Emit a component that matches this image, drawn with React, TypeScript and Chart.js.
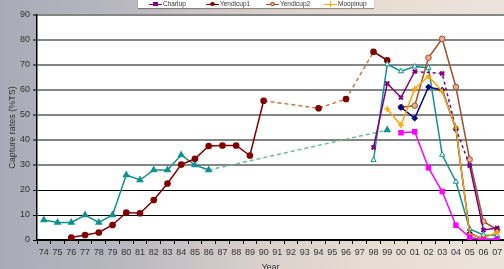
import React, { useEffect, useRef } from "react";
import { Chart, registerables } from "chart.js";

Chart.register(...registerables);

const years: string[] = [
  "74", "75", "76", "77", "78", "79", "80", "81", "82", "83", "84", "85", "86", "87", "88", "89",
  "90", "91", "92", "93", "94", "95", "96", "97", "98", "99", "00", "01", "02", "03", "04", "05", "06", "07",
];

const N = null;
// teal series (early, with a gap bridged by a dashed line to 99)
const tealEarly = [8, 7, 7, 10, 7, 10, 26, 24, 28, 28, 34, 30, 28, N, N, N, N, N, N, N, N, N, N, N, N, 44, N, N, N, N, N, N, N, N];
const tealLate = [N, N, N, N, N, N, N, N, N, N, N, N, N, N, N, N, N, N, N, N, N, N, N, N, 32, 70.3, 67.5, 69.4, 68.9, 34.1, 23.3, 4.4, 2, 1.9];
const yendicup1 = [N, N, 1, 2, 3, 6, 11, 10.7, 16, 22.6, 30.2, 32.5, 37.6, 37.8, 37.8, 33.8, 55.7, N, N, N, 52.7, N, 56.4, N, 75.3, 71.9, N, N, N, N, N, N, N, N];
const yendicup2 = [N, N, N, N, N, N, N, N, N, N, N, N, N, N, N, N, N, N, N, N, N, N, N, N, N, N, 53.1, 53.7, 72.9, 80.5, 61.2, 32.2, 7.4, 4.1];
const charlup = [N, N, N, N, N, N, N, N, N, N, N, N, N, N, N, N, N, N, N, N, N, N, N, N, 37, 62.6, 57, 67.4, N, 66.6, 44.5, 29.8, 4, 4.8];
const navy = [N, N, N, N, N, N, N, N, N, N, N, N, N, N, N, N, N, N, N, N, N, N, N, N, N, N, 53.1, 48.7, 61.2, 60, 44.5, 2.7, 0.3, 0.3];
const moopinup = [N, N, N, N, N, N, N, N, N, N, N, N, N, N, N, N, N, N, N, N, N, N, N, N, N, 52.4, 45.9, 60.4, 65.5, 59.5, 44.8, 2.3, 0.7, 3.1];
const magenta = [N, N, N, N, N, N, N, N, N, N, N, N, N, N, N, N, N, N, N, N, N, N, N, N, N, N, 42.9, 43.3, 28.9, 19.4, 5.9, 1.1, 0, 0.1];

const legendItems = [
  { label: "Charlup", color: "#800080", marker: "square", x: 149 },
  { label: "Yendicup1", color: "#800000", marker: "circle", x: 206 },
  { label: "Yendicup2", color: "#a0522d", marker: "ocircle", x: 266 },
  { label: "Moopinup", color: "#ffa500", marker: "plus", x: 324 },
];

const FONT = "'Liberation Sans', Arial, sans-serif";

const gapDash = (color: string) => ({
  borderColor: (c: any) => (c.p0.skip || c.p1.skip ? color : undefined),
  borderDash: (c: any) => (c.p0.skip || c.p1.skip ? [4, 3] : undefined),
});

export default function App() {
  const ref = useRef<HTMLCanvasElement>(null);

  useEffect(() => {
    if (!ref.current) return;
    const whiteArea = {
      id: "whiteArea",
      beforeDraw(chart: any) {
        const { ctx, chartArea } = chart;
        ctx.save();
        ctx.fillStyle = "#ffffff";
        ctx.fillRect(chartArea.left, chartArea.top, chartArea.right - chartArea.left, chartArea.bottom - chartArea.top);
        ctx.restore();
      },
    };
    const chart = new Chart(ref.current, {
      type: "line",
      data: {
        labels: years,
        datasets: [
          {
            label: "Magenta",
            data: magenta,
            borderColor: "#ff00ff",
            backgroundColor: "#ff00ff",
            pointStyle: "rect",
            pointRadius: 2.8,
            borderWidth: 1.5,
          },
          {
            label: "Moopinup",
            data: moopinup,
            borderColor: "#ffa500",
            backgroundColor: "#ffa500",
            pointStyle: "cross",
            pointRadius: 3,
            pointBorderWidth: 1.5,
            borderWidth: 1.5,
          },
          {
            label: "Navy",
            data: navy,
            borderColor: "#000080",
            backgroundColor: "#000080",
            pointStyle: "rectRot",
            pointRadius: 2.3,
            borderWidth: 1.5,
          },
          {
            label: "Charlup",
            data: charlup,
            borderColor: "#800080",
            backgroundColor: "#800080",
            pointStyle: "crossRot",
            pointRadius: 2.8,
            pointBorderWidth: 2,
            borderWidth: 1.5,
            spanGaps: true,
            segment: {
              borderDash: (c: any) => (c.p0DataIndex >= 27 && c.p1DataIndex <= 31 ? [3, 3] : undefined),
            },
          },
          {
            label: "Yendicup2",
            data: yendicup2,
            borderColor: "#a0522d",
            backgroundColor: "#e8b090",
            pointStyle: "circle",
            pointRadius: 2.8,
            pointBorderWidth: 1,
            borderWidth: 1.5,
          },
          {
            label: "Teal late",
            data: tealLate,
            borderColor: "#119090",
            backgroundColor: "#ffffff",
            pointStyle: "triangle",
            pointRadius: 3,
            pointBorderWidth: 1,
            borderWidth: 1.5,
          },
          {
            label: "Yendicup1",
            data: yendicup1,
            borderColor: "#800000",
            backgroundColor: "#800000",
            pointStyle: "circle",
            pointRadius: 2.6,
            borderWidth: 1.5,
            spanGaps: true,
            segment: gapDash("#c0784c"),
          },
          {
            label: "Teal early",
            data: tealEarly,
            borderColor: "#119090",
            backgroundColor: "#119090",
            pointStyle: "triangle",
            pointRadius: 3,
            borderWidth: 1.5,
            spanGaps: true,
            segment: gapDash("#6cbc94"),
          },
        ],
      },
      options: {
        responsive: false,
        animation: false,
        devicePixelRatio: 1,
        layout: { padding: { left: 0, right: 4, top: 15, bottom: 0 } },
        plugins: { legend: { display: false }, tooltip: { enabled: false } },
        scales: {
          x: {
            offset: true,
            afterFit: (s: any) => {
              s.height = 40;
            },
            grid: { display: true, drawOnChartArea: false, drawTicks: true, tickLength: 4, offset: true, color: "#000" },
            border: { display: true, color: "#000", width: 1.5 },
            ticks: { autoSkip: false, maxRotation: 0, padding: 3, color: "#333", font: { family: FONT, size: 9 } },
            title: {
              display: true,
              text: "Year",
              color: "#333",
              font: { family: FONT, size: 9 },
              padding: { top: 0, bottom: 7.5 },
            },
          },
          y: {
            min: 0,
            max: 90,
            afterFit: (s: any) => {
              s.width = 37;
            },
            ticks: { stepSize: 10, padding: 3, color: "#333", font: { family: FONT, size: 9 } },
            grid: {
              color: (c: any) => (c.tick && c.tick.value >= 30 ? "#858585" : "#000"),
              lineWidth: (c: any) => (c.tick && c.tick.value >= 30 ? 2 : 1),
              tickColor: "#000",
              tickWidth: 1,
              tickLength: 4,
            },
            border: { display: true, color: "#000", width: 1.5 },
            title: {
              display: true,
              text: "Capture rates (%TS)",
              color: "#333",
              font: { family: FONT, size: 9 },
              padding: { top: 7.5, bottom: 0 },
            },
          },
        },
      },
      plugins: [whiteArea],
    });
    return () => chart.destroy();
  }, []);

  return (
    <div
      style={{
        position: "fixed",
        left: 0,
        top: 0,
        width: 504,
        height: 269,
        overflow: "hidden",
        background: "linear-gradient(90deg, #a8abb7 0%, #b9b8c0 25%, #d8cfcb 50%, #e8ddd3 75%, #ece3da 100%)",
      }}
    >
      <canvas ref={ref} width={510} height={280} style={{ position: "absolute", left: 0, top: 0 }} />
      <div
        style={{
          position: "absolute",
          left: 138,
          top: 0,
          width: 236,
          height: 8,
          background: "#ffffff",
          boxShadow: "0 1px 1px rgba(0,0,0,0.35)",
        }}
      >
        {legendItems.map((it) => (
          <div key={it.label} style={{ position: "absolute", left: it.x - 138, top: 0, height: 8 }}>
            <div style={{ position: "absolute", left: 0, top: 3.5, width: 13, height: 1.2, background: it.color }} />
            {it.marker === "plus" ? (
              <>
                <div style={{ position: "absolute", left: 6, top: 1, width: 1.2, height: 6, background: it.color }} />
              </>
            ) : (
              <div
                style={{
                  position: "absolute",
                  left: 4,
                  top: 2,
                  width: 5,
                  height: 4,
                  borderRadius: it.marker === "square" ? 0 : "50%",
                  background: it.marker === "ocircle" ? "#e8b090" : it.color,
                  border: it.marker === "ocircle" ? `1px solid ${it.color}` : "none",
                  boxSizing: "border-box",
                }}
              />
            )}
            <span
              style={{
                position: "absolute",
                left: 14,
                top: 0,
                fontFamily: FONT,
                fontSize: 6.5,
                lineHeight: "8px",
                color: "#333",
                whiteSpace: "nowrap",
              }}
            >
              {it.label}
            </span>
          </div>
        ))}
      </div>
    </div>
  );
}
